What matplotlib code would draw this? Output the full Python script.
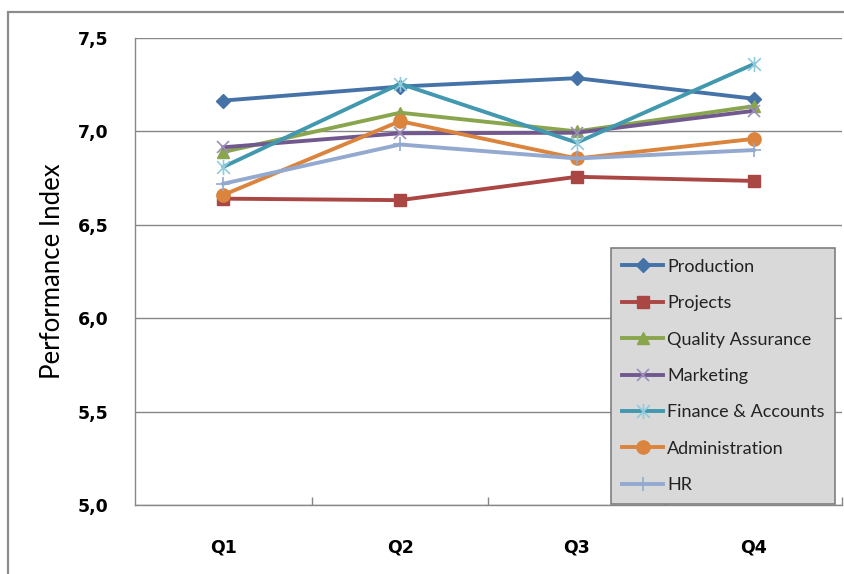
import matplotlib
matplotlib.use("Agg")
import matplotlib.pyplot as plt
from matplotlib.patches import Rectangle
from matplotlib.path import Path

quarters = ["Q1", "Q2", "Q3", "Q4"]

production = [7.165, 7.240, 7.285, 7.175]
projects = [6.640, 6.632, 6.757, 6.735]
quality = [6.890, 7.100, 7.000, 7.135]
marketing = [6.915, 6.990, 6.993, 7.110]
finance = [6.810, 7.255, 6.940, 7.360]
administration = [6.660, 7.055, 6.855, 6.960]
hr = [6.720, 6.930, 6.855, 6.900]

series_names = ["Production", "Projects", "Quality Assurance", "Marketing",
                "Finance & Accounts", "Administration", "HR"]
series_values = [production, projects, quality, marketing, finance, administration, hr]

# x plus a vertical bar, like the office "star" marker
STAR = Path([(-1, -1), (1, 1), (-1, 1), (1, -1), (0, -1.2), (0, 1.2)],
            [Path.MOVETO, Path.LINETO, Path.MOVETO, Path.LINETO, Path.MOVETO, Path.LINETO])

STYLES = [
    dict(color="#4572A7", marker="D", markersize=7.5, mec="#4572A7", mfc="#4572A7"),
    dict(color="#AA4643", marker="s", markersize=9, mec="#AA4643", mfc="#AA4643"),
    dict(color="#89A54E", marker="^", markersize=9, mec="#89A54E", mfc="#89A54E"),
    dict(color="#71588F", marker="x", markersize=9, mec="#9C8DBB", mew=1.2),
    dict(color="#4198AF", marker=STAR, markersize=11, mec="#8FCBDB", mew=1.2),
    dict(color="#DB843D", marker="o", markersize=9.5, mec="#DB843D", mfc="#DB843D"),
    dict(color="#93A9CF", marker="+", markersize=10, mec="#93A9CF", mew=1.2),
]

GRID = "#878787"

fig = plt.figure(figsize=(8.45, 5.74), dpi=100)
fig.patch.set_facecolor("white")

# chart frame running off the right and bottom edges
fig.patches.append(Rectangle((8 / 845, -0.05), 1.1, 1 - 12 / 574 + 0.05,
                             transform=fig.transFigure, fill=False,
                             edgecolor="#8c8c8c", linewidth=1.6, zorder=0))

ax = fig.add_axes([135 / 845, (574 - 505) / 574, (842 - 135) / 845, (505 - 38) / 574])
x = list(range(len(quarters)))

for name, vals, st in zip(series_names, series_values, STYLES):
    ax.plot(x, vals, label=name, linewidth=2.8, solid_joinstyle="round",
            clip_on=False, **st)

ax.set_xlim(-0.5, len(quarters) - 0.5)
ax.set_ylim(5.0, 7.5)
ax.set_yticks([5.0, 5.5, 6.0, 6.5, 7.0, 7.5])
ax.set_yticklabels(["5,0", "5,5", "6,0", "6,5", "7,0", "7,5"])
ax.set_xticks(x)
ax.set_xticklabels(quarters)
ax.set_xticks([i + 0.5 for i in range(len(quarters))], minor=True)

ax.tick_params(axis="y", length=0, pad=19, labelsize=12.5)
ax.tick_params(axis="x", which="major", length=0, pad=24, labelsize=12.5)
ax.tick_params(axis="x", which="minor", direction="in", length=6, color=GRID, width=1)
for lab in ax.get_xticklabels() + ax.get_yticklabels():
    lab.set_fontweight("bold")

ax.grid(axis="y", color=GRID, linewidth=1)
ax.set_axisbelow(True)
for side in ["top", "right"]:
    ax.spines[side].set_visible(False)
for side in ["left", "bottom"]:
    ax.spines[side].set_color(GRID)
    ax.spines[side].set_linewidth(1)

ax.set_ylabel("Performance Index", fontsize=18.5, family="Lato", labelpad=9)

leg = ax.legend(loc="lower left", bbox_to_anchor=(611 / 845, (574 - 504) / 574),
                bbox_transform=fig.transFigure, prop={"family": "Lato", "size": 13},
                frameon=True, fancybox=False, handlelength=2.3, handletextpad=0.2,
                labelspacing=1.13, borderpad=0.6, borderaxespad=0)
leg.get_frame().set_facecolor("#D9D9D9")
leg.get_frame().set_edgecolor("#7f7f7f")
leg.get_frame().set_linewidth(1.2)
leg.get_frame().set_alpha(1)
for t in leg.get_texts():
    t.set_color("#222222")

plt.savefig("out.png", dpi=100, facecolor="white")
